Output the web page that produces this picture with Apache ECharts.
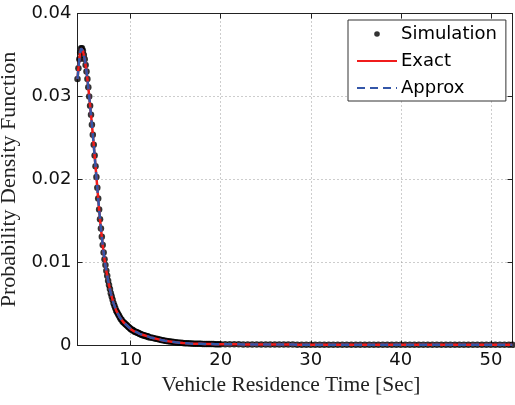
<!DOCTYPE html>
<html>
<head>
<meta charset="utf-8">
<script src="https://cdn.jsdelivr.net/npm/echarts@6/dist/echarts.min.js"></script>
<style>html,body{margin:0;padding:0;background:#fff}#c{width:515px;height:405px}</style>
</head>
<body>
<div id="c"></div>
<script>
// Bin centres (s): fine near the peak, coarser in the tail
const xFine = [4.1,4.2,4.3,4.4,4.5,4.6,4.7,4.8,4.9,5.0,5.1,5.2,5.3,5.4,5.5,5.6,5.7,5.8,5.9,6.0,
  6.1,6.2,6.3,6.4,6.5,6.6,6.7,6.8,6.9,7.0,7.1,7.2,7.3,7.4,7.5,7.6,7.7,7.8,7.9,8.0,
  8.1,8.2,8.3,8.4,8.5,8.6,8.7,8.8,8.9,9.0,9.1,9.2,9.3,9.4,9.5,9.6,9.7,9.8,9.9,10.0,
  10.1,10.2,10.3,10.4,10.5,10.6,10.7,10.8,10.9,11.0,11.1,11.2,11.3,11.4,11.5,11.6,11.7,11.8,11.9,12.0];
const yFine = [.0321,.0334,.0345,.0353,.0358,.0358,.0355,.0350,.0345,.0338,
  .0330,.0321,.0311,.0300,.0289,.0278,.0266,.0254,.0242,.0229,
  .0216,.0203,.0190,.0177,.0164,.0152,.0141,.0131,.0121,.0112,
  .0104,.0097,.0090,.0084,.0078,.0073,.0068,.0063,.0059,.0055,
  .0051,.0048,.0045,.0042,.0040,.0038,.0036,.0034,.0032,.0031,
  .0029,.0028,.0027,.0026,.0025,.0024,.0023,.0022,.0021,.0020,
  .0019,.0019,.0018,.0017,.0017,.0016,.0016,.0015,.0015,.0014,
  .0014,.0013,.0013,.0012,.0012,.0012,.0011,.0011,.0011,.0010];
const xMid = [12.2,12.4,12.6,12.8,13.0,13.2,13.4,13.6,13.8,14.0,14.2,14.4,14.6,14.8,15.0,15.2,15.4,15.6,15.8,16.0,
  16.2,16.4,16.6,16.8,17.0,17.2,17.4,17.6,17.8,18.0,18.2,18.4,18.6,18.8,19.0,19.2,19.4,19.6,19.8,20.0];
const yMid = [.00097,.00092,.00087,.00082,.00077,.00072,.00067,.00062,.00058,.00054,
  .00050,.00047,.00044,.00041,.00038,.00036,.00034,.00032,.00030,.00028,
  .00027,.00026,.00024,.00023,.00022,.00021,.00021,.00020,.00020,.00019,
  .00019,.00018,.00018,.00017,.00017,.00017,.00016,.00016,.00016,.00015];
const xTail = [20.5,21,21.5,22,22.5,23,23.5,24,24.5,25,25.5,26,26.5,27,27.5,28,28.5,29,29.5,30,
  30.5,31,31.5,32,32.5,33,33.5,34,34.5,35,35.5,36,36.5,37,37.5,38,38.5,39,39.5,40,
  40.5,41,41.5,42,42.5,43,43.5,44,44.5,45,45.5,46,46.5,47,47.5,48,48.5,49,49.5,50,
  50.5,51,51.5,52,52.4];
const yTail = [.00015,.00014,.00014,.00014,.00013,.00013,.00013,.00012,.00012,.00012,
  .00012,.00011,.00011,.00011,.00011,.00011,.00010,.00010,.00010,.00010,
  .00010,.00010,.00010,.00010,.00010,.00010,.00010,.00010,.00010,.00009,
  .00009,.00009,.00009,.00009,.00009,.00009,.00009,.00009,.00009,.00009,
  .00009,.00009,.00009,.00009,.00009,.00009,.00009,.00009,.00009,.00009,
  .00008,.00008,.00008,.00008,.00008,.00008,.00008,.00008,.00008,.00008,
  .00008,.00008,.00008,.00008,.00008];
// Exact and approximate PDFs overlap the simulation in the picture
const exactY = yFine.concat(yMid, yTail);
const approxY = yFine.concat(yMid, yTail);
const simY = yFine.concat(yMid, yTail);
const xAll = xFine.concat(xMid, xTail);
const xTicks = [10, 20, 30, 40, 50];
const yTicks = [0, 0.01, 0.02, 0.03, 0.04];
const seriesNames = ['Simulation', 'Exact', 'Approx'];

const pair = ys => xAll.map((x, i) => [x, ys[i]]);
const chart = echarts.init(document.getElementById('c'), null, {renderer: 'canvas'});
const AX = '#222';
const sans = 'DejaVu Sans';
const serif = 'Liberation Serif';
const noSym = {color: 'rgba(0,0,0,0)', borderWidth: 0, opacity: 0};
chart.setOption({
  animation: false,
  backgroundColor: '#fff',
  grid: {left: 77.5, right: 2.5, top: 13.5, bottom: 59.5, show: false,
    containLabel: false, outerBoundsMode: 'none'},
  legend: {
    orient: 'vertical', left: 348, top: 20,
    backgroundColor: '#fff', borderColor: '#333', borderWidth: 1,
    padding: [5, 9, 4, 8], itemGap: 9, itemWidth: 40, itemHeight: 14,
    textStyle: {fontFamily: sans, fontSize: 18, color: '#000', padding: [0, 0, 0, -1]},
    data: [
      {name: seriesNames[0], icon: 'path://M0,0M40,14M17.2,7a2.8,2.8 0 1,0 5.6,0a2.8,2.8 0 1,0 -5.6,0z'},
      {name: seriesNames[1], itemStyle: noSym},
      {name: seriesNames[2], itemStyle: noSym}
    ]
  },
  xAxis: [{
    type: 'value', min: 4.1, max: 52.4, position: 'bottom',
    name: 'Vehicle Residence Time [Sec]', nameLocation: 'middle', nameGap: 27,
    nameTextStyle: {fontFamily: serif, fontSize: 21.5, color: '#222', padding: [0, 8, 0, 0]},
    axisLine: {show: true, onZero: false, lineStyle: {color: AX, width: 1}},
    axisTick: {show: true, inside: true, length: 5, lineStyle: {color: AX}},
    axisLabel: {fontFamily: sans, fontSize: 18, color: '#111', margin: 6,
      showMinLabel: false, showMaxLabel: false,
      formatter: v => xTicks.indexOf(v) >= 0 ? String(v) : ''},
    splitLine: {show: true, lineStyle: {color: '#9a9a9a', type: [1, 3], width: 1}}
  }, {
    type: 'value', min: 4.1, max: 52.4, position: 'top',
    axisLine: {show: true, onZero: false, lineStyle: {color: AX, width: 1}},
    axisTick: {show: true, inside: true, length: 5, lineStyle: {color: AX}},
    axisLabel: {show: false}, splitLine: {show: false}
  }],
  yAxis: [{
    type: 'value', min: 0, max: 0.04, interval: 0.01, position: 'left',
    name: 'Probability Density Function', nameLocation: 'middle', nameGap: 47, nameRotate: 90,
    nameTextStyle: {fontFamily: serif, fontSize: 22, color: '#222'},
    axisLine: {show: true, onZero: false, lineStyle: {color: AX, width: 1}},
    axisTick: {show: true, inside: true, length: 5, lineStyle: {color: AX}},
    axisLabel: {fontFamily: sans, fontSize: 18, color: '#111', margin: 6,
      formatter: v => yTicks.some(t => Math.abs(t - v) < 1e-9) ? String(+v.toFixed(2)) : ''},
    splitLine: {show: true, lineStyle: {color: '#9a9a9a', type: [1, 3], width: 1}}
  }, {
    type: 'value', min: 0, max: 0.04, interval: 0.01, position: 'right',
    axisLine: {show: true, onZero: false, lineStyle: {color: AX, width: 1}},
    axisTick: {show: true, inside: true, length: 5, lineStyle: {color: AX}},
    axisLabel: {show: false}, splitLine: {show: false}
  }],
  series: [{
    name: seriesNames[0], type: 'scatter', data: pair(simY),
    symbol: 'circle', symbolSize: 6.5, itemStyle: {color: '#000'}, z: 2
  }, {
    name: seriesNames[1], type: 'line', data: pair(exactY), showSymbol: false, symbol: 'none',
    lineStyle: {color: '#f01c1c', width: 2.5}, itemStyle: {color: '#f01c1c'}, z: 3
  }, {
    name: seriesNames[2], type: 'line', data: pair(approxY), showSymbol: false, symbol: 'none',
    lineStyle: {color: '#3456a8', width: 2.5, type: [8, 5]}, itemStyle: {color: '#3456a8'}, z: 4
  }]
});
</script>
</body>
</html>
